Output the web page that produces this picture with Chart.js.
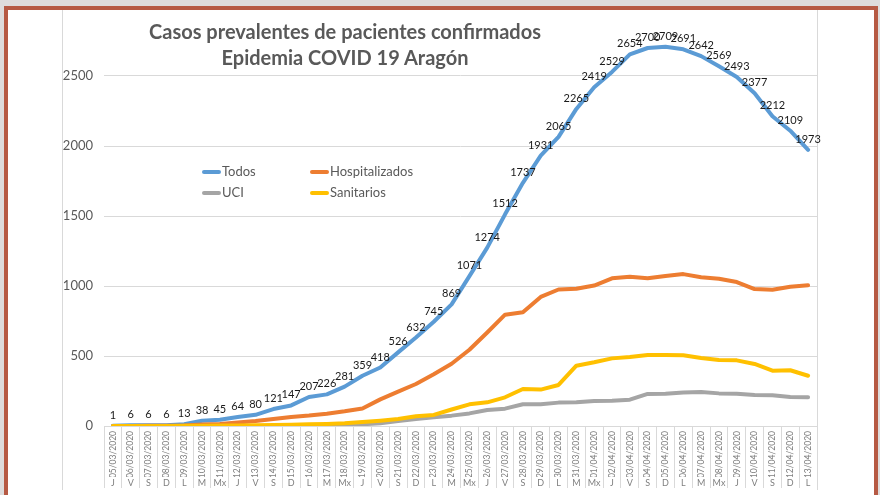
<!DOCTYPE html>
<html lang="es">
<head>
  <meta charset="UTF-8">
  <title>Casos prevalentes COVID 19 Aragón</title>
  <script src="https://cdn.jsdelivr.net/npm/chart.js"></script>
  <style>
    html, body { margin: 0; padding: 0; }
    body { width: 880px; height: 495px; background: #fff; position: relative; overflow: hidden; font-family: Lato, "Open Sans", sans-serif; }
    #box { position: absolute; left: 62px; top: 9px; width: 754px; height: 481px; border-left: 1px solid #d9d9d9; border-right: 1px solid #d9d9d9; }
    #chartContainer { position: absolute; left: 62px; top: -14px; width: 771px; height: 504px; }
    #frame { position: absolute; left: 4px; top: 6px; width: 866px; height: 500px; border: 4px solid #b65a44; border-bottom: none; pointer-events: none; }
    #topStrip { position: absolute; left: 0; top: 0; width: 880px; height: 6px; background: #dedcdc; }
    #leftStrip { position: absolute; left: 0; top: 0; width: 4px; height: 495px; background: #dedcdc; }
    #rightStrip { position: absolute; right: 0; top: 0; width: 6px; height: 495px; background: #dedcdc; }
    #title { position: absolute; left: 95px; width: 500px; top: 18px; text-align: center; color: #595959; font-weight: bold; font-size: 20px; line-height: 26px; }
    .leg { position: absolute; font-size: 13px; color: #595959; line-height: 16px; }
    .leg span { display: inline-block; width: 19px; height: 4px; border-radius: 2px; vertical-align: middle; margin-right: 1px; margin-top: -2px; }
  </style>
</head>
<body>
  <div id="box"></div>
  <div id="chartContainer"><canvas id="myChart"></canvas></div>
  <div id="title">Casos prevalentes de pacientes confirmados<br>Epidemia COVID 19 Aragón</div>
  <div id="legend"></div>
  <div id="topStrip"></div>
  <div id="leftStrip"></div>
  <div id="rightStrip"></div>
  <div id="frame"></div>

  <script>
    // categories
    const fechas = [
      '05/03/2020', '06/03/2020', '07/03/2020', '08/03/2020', '09/03/2020', '10/03/2020', '11/03/2020',
      '12/03/2020', '13/03/2020', '14/03/2020', '15/03/2020', '16/03/2020', '17/03/2020', '18/03/2020',
      '19/03/2020', '20/03/2020', '21/03/2020', '22/03/2020', '23/03/2020', '24/03/2020', '25/03/2020',
      '26/03/2020', '27/03/2020', '28/03/2020', '29/03/2020', '30/03/2020', '31/03/2020', '01/04/2020',
      '02/04/2020', '03/04/2020', '04/04/2020', '05/04/2020', '06/04/2020', '07/04/2020', '08/04/2020',
      '09/04/2020', '10/04/2020', '11/04/2020', '12/04/2020', '13/04/2020'
    ];
    const dias = [
      'J', 'V', 'S', 'D', 'L', 'M', 'Mx', 'J', 'V', 'S', 'D', 'L', 'M', 'Mx',
      'J', 'V', 'S', 'D', 'L', 'M', 'Mx', 'J', 'V', 'S', 'D', 'L', 'M', 'Mx',
      'J', 'V', 'S', 'D', 'L', 'M', 'Mx', 'J', 'V', 'S', 'D', 'L'
    ];

    // series
    const todos = [1, 6, 6, 6, 13, 38, 45, 64, 80, 121, 147, 207, 226, 281, 359, 418, 526, 632, 745, 869,
      1071, 1274, 1512, 1737, 1931, 2065, 2265, 2419, 2529, 2654, 2700, 2709, 2691, 2642, 2569, 2493, 2377, 2212, 2109, 1973];
    const hospitalizados = [0, 0, 1, 2, 3, 10, 15, 25, 35, 50, 65, 75, 88, 105, 125, 190, 245, 300, 370, 445,
      545, 668, 795, 812, 922, 975, 980, 1003, 1055, 1066, 1055, 1072, 1085, 1062, 1052, 1028, 978, 973, 995, 1005];
    const uci = [0, 0, 0, 0, 0, 0, 0, 0, 0, 0, 0, 1, 2, 5, 12, 20, 35, 50, 62, 74,
      90, 114, 124, 155, 155, 167, 169, 178, 180, 188, 229, 231, 240, 243, 233, 231, 221, 219, 207, 205];
    const sanitarios = [0, 0, 0, 0, 1, 2, 3, 4, 5, 7, 9, 12, 15, 20, 28, 38, 50, 70, 79, 118,
      155, 169, 205, 264, 260, 293, 431, 455, 483, 493, 507, 507, 505, 486, 471, 469, 443, 395, 398, 359];

    // y ticks
    const yTicks = [0, 500, 1000, 1500, 2000, 2500, 3000];

    const series = [
      { label: 'Todos', data: todos, color: '#5b9bd5', order: 4 },
      { label: 'Hospitalizados', data: hospitalizados, color: '#ed7d31', order: 3 },
      { label: 'UCI', data: uci, color: '#a5a5a5', order: 2 },
      { label: 'Sanitarios', data: sanitarios, color: '#ffc000', order: 1 }
    ];

    // legend as html text, placed inside the plot like the original
    const legendPos = [[202, 163], [310, 163], [202, 184], [310, 184]];
    const legendDiv = document.getElementById('legend');
    series.forEach((s, i) => {
      const d = document.createElement('div');
      d.className = 'leg';
      d.style.left = legendPos[i][0] + 'px';
      d.style.top = legendPos[i][1] + 'px';
      d.innerHTML = `<span style="background:${s.color}"></span>${s.label}`;
      legendDiv.appendChild(d);
    });

    // value labels above the "Todos" line
    const valueLabels = {
      id: 'valueLabels',
      afterDatasetsDraw(chart) {
        const ctx = chart.ctx;
        const meta = chart.getDatasetMeta(0);
        ctx.save();
        ctx.font = '11px Lato, "Open Sans", sans-serif';
        ctx.fillStyle = '#1a1a1a';
        ctx.textAlign = 'center';
        ctx.textBaseline = 'bottom';
        meta.data.forEach((pt, i) => {
          ctx.fillText(String(todos[i]), pt.x, pt.y - 5);
        });
        ctx.restore();
      }
    };

    const ctx = document.getElementById('myChart').getContext('2d');
    new Chart(ctx, {
      type: 'line',
      data: {
        labels: fechas,
        datasets: series.map(s => ({
          label: s.label,
          data: s.data,
          borderColor: s.color,
          backgroundColor: s.color,
          borderWidth: 4,
          pointRadius: 0,
          tension: 0,
          order: s.order,
          borderCapStyle: 'round',
          borderJoinStyle: 'round'
        }))
      },
      options: {
        responsive: true,
        maintainAspectRatio: false,
        animation: false,
        layout: { padding: { top: 20, right: 16, bottom: 0, left: 0 } },
        plugins: {
          legend: { display: false },
          title: { display: false },
          tooltip: { enabled: false }
        },
        scales: {
          y: {
            min: 0,
            max: 3000,
            afterBuildTicks: axis => { axis.ticks = yTicks.map(v => ({ value: v })); },
            afterFit: axis => { axis.width = 42; },
            grid: { color: '#d9d9d9', drawTicks: false, lineWidth: 1 },
            border: { display: false },
            ticks: { color: '#595959', font: { size: 13, family: 'Lato' }, padding: 11, callback: v => String(v) }
          },
          x: {
            position: 'bottom',
            offset: true,
            afterFit: axis => { axis.height = 51; },
            grid: { drawOnChartArea: false, offset: true, tickLength: 51, color: '#d9d9d9' },
            border: { display: true, color: '#d9d9d9' },
            ticks: {
              autoSkip: false, minRotation: 90, maxRotation: 90,
              color: '#7f7f7f', font: { size: 8.5, family: 'Lato' }, padding: -46
            }
          },
          x2: {
            type: 'category',
            position: 'bottom',
            labels: dias,
            offset: true,
            afterFit: axis => { axis.height = 13; },
            grid: { drawOnChartArea: false, offset: true, tickLength: 11, color: '#d9d9d9' },
            border: { display: false },
            ticks: { autoSkip: false, maxRotation: 0, color: '#7f7f7f', font: { size: 9, family: 'Lato' }, padding: -10 }
          }
        }
      },
      plugins: [valueLabels]
    });
  </script>
</body>
</html>
